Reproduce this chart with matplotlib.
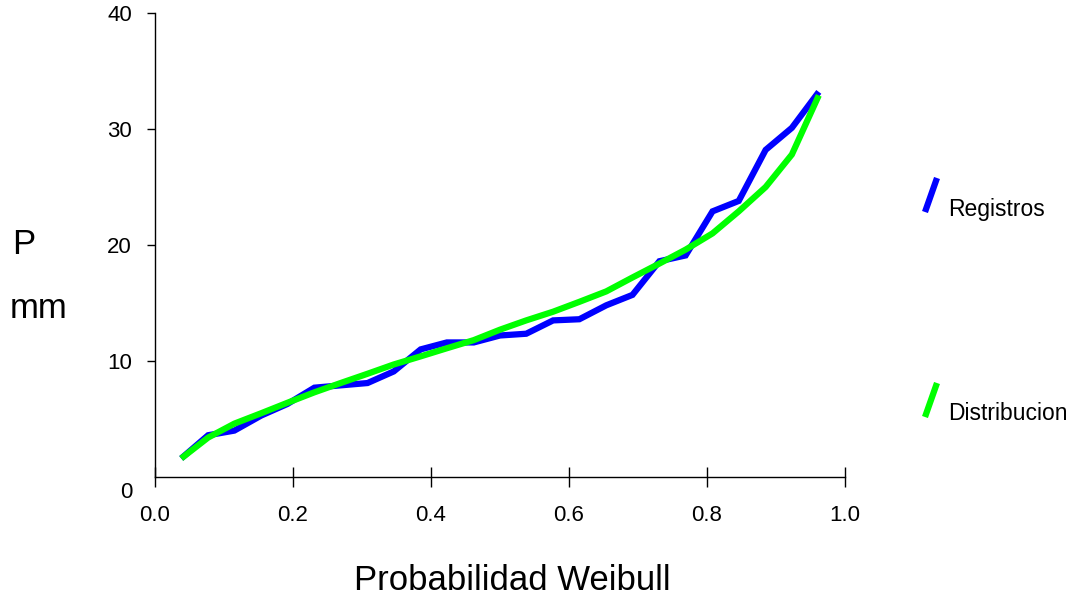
import matplotlib
matplotlib.use("Agg")
import matplotlib.pyplot as plt
from matplotlib.lines import Line2D
from matplotlib.transforms import ScaledTranslation

plt.rcParams['font.family'] = ['Liberation Sans', 'DejaVu Sans']

# Weibull plotting positions
prob = [0.038, 0.077, 0.115, 0.154, 0.192, 0.231, 0.269, 0.308, 0.346, 0.385,
        0.423, 0.462, 0.500, 0.538, 0.577, 0.615, 0.654, 0.692, 0.731, 0.769,
        0.808, 0.846, 0.885, 0.923, 0.962]
registros = [1.6, 3.6, 4.0, 5.3, 6.3, 7.7, 7.9, 8.1, 9.1, 11.0,
             11.6, 11.6, 12.2, 12.35, 13.5, 13.6, 14.8, 15.7, 18.6, 19.1,
             22.9, 23.8, 28.2, 30.1, 33.2]
distribucion = [1.6, 3.4, 4.6, 5.5, 6.4, 7.3, 8.1, 8.9, 9.7, 10.4,
                11.1, 11.8, 12.7, 13.5, 14.25, 15.1, 16.0, 17.2, 18.4, 19.6,
                21.0, 22.9, 25.0, 27.8, 32.9]
xticks = [0.0, 0.2, 0.4, 0.6, 0.8, 1.0]
xticklabels = ["0.0", "0.2", "0.4", "0.6", "0.8", "1.0"]
yticks = [0, 10, 20, 30, 40]
yticklabels = ["0", "10", "20", "30", "40"]
series_names = ["Registros", "Distribucion"]
colors = ["#0000FF", "#00FF00"]

fig = plt.figure(figsize=(10.78, 6.0), dpi=100)
ax = fig.add_axes([155/1078, 1 - 477/600, 690/1078, 464/600])

ax.plot(prob, registros, color=colors[0], lw=4.5, solid_joinstyle='miter',
        solid_capstyle='butt', zorder=3)
ax.plot(prob, distribucion, color=colors[1], lw=4.5, solid_joinstyle='miter',
        solid_capstyle='butt', zorder=4)

ax.set_xlim(0, 1.0)
ax.set_ylim(0, 40)
ax.spines['top'].set_visible(False)
ax.spines['right'].set_visible(False)
ax.spines['left'].set_linewidth(1.0)
ax.spines['bottom'].set_linewidth(1.0)

ax.set_xticks(xticks)
ax.set_xticklabels(xticklabels, fontsize=16)
ax.set_yticks(yticks)
ax.set_yticklabels(yticklabels, fontsize=16)
ax.tick_params(axis='x', direction='inout', length=14, width=1.0, pad=13)
ax.tick_params(axis='y', direction='out', length=5.5, width=1.0, pad=11)
# zero label sits lower in the reference
lab0 = ax.get_yticklabels()[0]
lab0.set_transform(lab0.get_transform() + ScaledTranslation(0, -13/100, fig.dpi_scale_trans))
ax.yaxis.get_major_ticks()[0].tick1line.set_visible(False)

fig.text(512/1078, 1 - 580/600, "Probabilidad Weibull", fontsize=25,
         ha='center', va='center')
fig.text(12/1078, 1 - 245/600, "P", fontsize=25, ha='left', va='center')
fig.text(10/1078, 1 - 308/600, "mm", fontsize=25, ha='left', va='center')

# legend with slanted handles
leg_y = [212, 417]
for name, col, yb in zip(series_names, colors, leg_y):
    fig.add_artist(Line2D([925/1078, 937/1078], [1 - yb/600, 1 - (yb - 34)/600],
                          transform=fig.transFigure, color=col, lw=4.5,
                          solid_capstyle='butt'))
    fig.text(948/1078, 1 - (yb - 3)/600, name, fontsize=16.5, ha='left', va='center')

fig.savefig("out.png", dpi=100)
